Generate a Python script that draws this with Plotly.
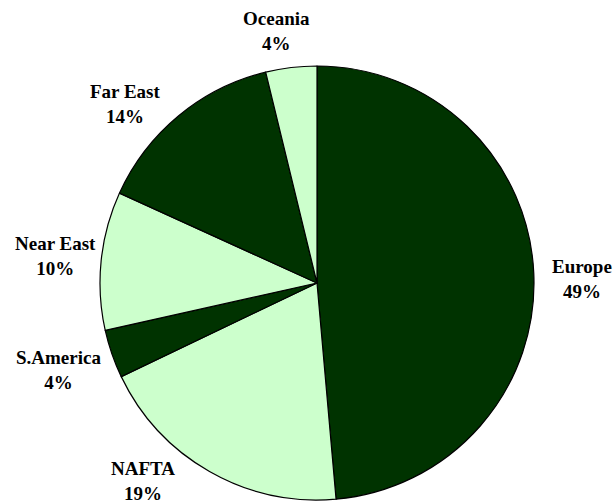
import plotly.graph_objects as go

regions = ["Europe", "NAFTA", "S.America", "Near East", "Far East", "Oceania"]
shares = [48.6, 19.3, 3.6, 10.3, 14.4, 3.8]
pct_labels = ["49%", "19%", "4%", "10%", "14%", "4%"]
colors = ["#003300", "#CCFFCC", "#003300", "#CCFFCC", "#003300", "#CCFFCC"]

# label anchor positions (pixels from top-left) for the data labels
label_px = [(582, 279), (143, 481), (58, 370), (55, 256), (126, 104), (276, 31)]

W, H = 615, 504

fig = go.Figure(go.Pie(
    labels=regions,
    values=shares,
    sort=False,
    direction="clockwise",
    rotation=0,
    marker=dict(colors=colors, line=dict(color="black", width=1.2)),
    textinfo="none",
    hoverinfo="label+percent",
    domain=dict(x=[100 / W, 534 / W], y=[(H - 500) / H, (H - 66) / H]),
    showlegend=False,
))

for name, pct, (px, py) in zip(regions, pct_labels, label_px):
    fig.add_annotation(
        x=px / W, y=(H - py) / H, xref="paper", yref="paper",
        text=f"<b>{name}<br>{pct}</b>",
        showarrow=False, xanchor="center", yanchor="middle", align="center",
        font=dict(family="Liberation Serif", size=19, color="black"),
    )

fig.update_layout(
    width=W, height=H,
    margin=dict(l=0, r=0, t=0, b=0),
    paper_bgcolor="white",
    plot_bgcolor="white",
)

fig.write_html(
    "out.html",
    config={"displayModeBar": False},
    post_script="document.body.style.margin='0';document.body.style.overflow='hidden';",
)
